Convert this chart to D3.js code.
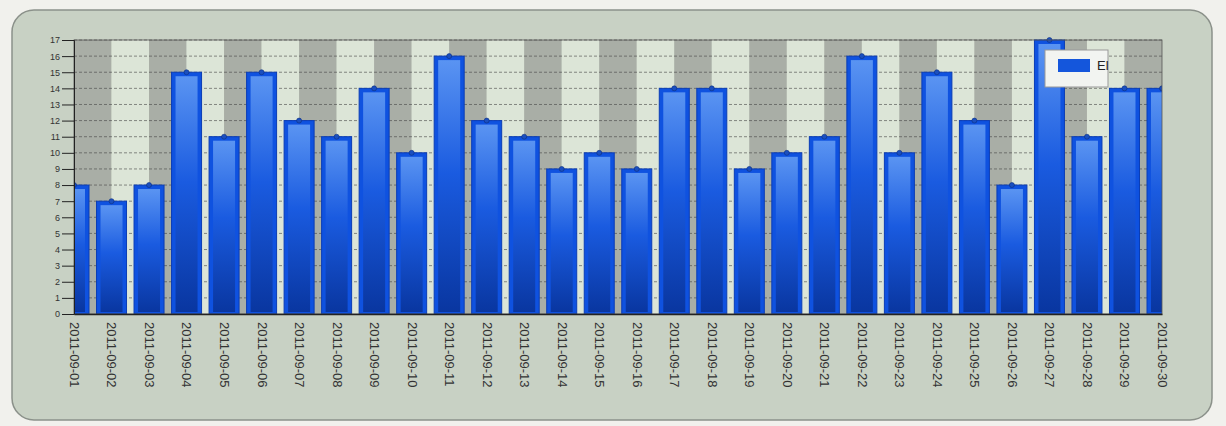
<!DOCTYPE html>
<html><head><meta charset="utf-8">
<script src="https://cdn.jsdelivr.net/npm/d3@7"></script>
<style>body{margin:0;background:#f1f1ed;font-family:"Liberation Sans",Arial,sans-serif}</style>
</head><body><svg id="chart" width="1226" height="426"></svg>
<script>
const dates = ["2011-09-01","2011-09-02","2011-09-03","2011-09-04","2011-09-05","2011-09-06","2011-09-07","2011-09-08","2011-09-09","2011-09-10","2011-09-11","2011-09-12","2011-09-13","2011-09-14","2011-09-15","2011-09-16","2011-09-17","2011-09-18","2011-09-19","2011-09-20","2011-09-21","2011-09-22","2011-09-23","2011-09-24","2011-09-25","2011-09-26","2011-09-27","2011-09-28","2011-09-29","2011-09-30"];
const values = [8,7,8,15,11,15,12,11,14,10,16,12,11,9,10,9,14,14,9,10,11,16,10,15,12,8,17,11,14,14];
const seriesName = "El";
const yTicks = d3.range(0, 18);

const svg = d3.select("#chart");
const pLeft = 74, pRight = 1162, pTop = 40, pBottom = 314;

// panel
svg.append("rect").attr("x", 12).attr("y", 10).attr("width", 1200).attr("height", 410)
   .attr("rx", 22).attr("fill", "#c8d1c4").attr("stroke", "#8b918a").attr("stroke-width", 1.5);

const x = d3.scalePoint().domain(dates).range([pLeft, pRight]);
const y = d3.scaleLinear().domain([0, 17]).range([pBottom, pTop]);
const step = x.step();
const bw = 30;

const defs = svg.append("defs");
defs.append("clipPath").attr("id", "plot").append("rect")
    .attr("x", pLeft).attr("y", pTop - 6).attr("width", pRight - pLeft).attr("height", pBottom - pTop + 6);
const g1 = defs.append("linearGradient").attr("id", "barv").attr("x1", 0).attr("y1", 0).attr("x2", 0).attr("y2", 1);
g1.append("stop").attr("offset", 0).attr("stop-color", "#5a94f2");
g1.append("stop").attr("offset", 0.45).attr("stop-color", "#1a5be0");
g1.append("stop").attr("offset", 1).attr("stop-color", "#0936a0");

const plot = svg.append("g").attr("clip-path", "url(#plot)");

// alternating stripes between category centres
plot.selectAll(".stripe").data(dates.slice(0, -1)).enter().append("rect")
    .attr("x", d => x(d)).attr("y", pTop).attr("width", step).attr("height", pBottom - pTop)
    .attr("fill", (d, i) => i % 2 ? "#dce5d7" : "#a9aea6");

// grid
plot.selectAll(".grid").data(yTicks.slice(1)).enter().append("line")
    .attr("x1", pLeft).attr("x2", pRight).attr("y1", d => y(d)).attr("y2", d => y(d))
    .attr("stroke", "#444").attr("stroke-width", 0.6).attr("stroke-dasharray", "3,2");

// bars
const bars = plot.selectAll(".bar").data(values).enter().append("g");
bars.append("rect")
    .attr("x", (d, i) => x(dates[i]) - bw / 2).attr("y", d => y(d))
    .attr("width", bw).attr("height", d => pBottom - y(d))
    .attr("fill", "#0f52e0").attr("stroke", "#0b3db5").attr("stroke-width", 1);
bars.append("rect")
    .attr("x", (d, i) => x(dates[i]) - bw / 2 + 4).attr("y", d => y(d) + 4)
    .attr("width", bw - 8).attr("height", d => pBottom - y(d) - 6)
    .attr("fill", "url(#barv)");
bars.append("circle")
    .attr("cx", (d, i) => x(dates[i])).attr("cy", d => y(d)).attr("r", 2.5)
    .attr("fill", "#1b4fbf").attr("stroke", "#0b2f80").attr("stroke-width", 0.6);

// frame
svg.append("rect").attr("x", pLeft).attr("y", pTop).attr("width", pRight - pLeft).attr("height", pBottom - pTop)
   .attr("fill", "none").attr("stroke", "#555").attr("stroke-width", 0.8);

// y axis
const ya = svg.append("g").attr("transform", `translate(${pLeft},0)`)
    .call(d3.axisLeft(y).tickValues(yTicks).tickSize(12).tickPadding(2));
ya.select(".domain").attr("stroke", "#222");
ya.selectAll("line").attr("stroke", "#222");
ya.selectAll("text").attr("font-size", 9).attr("fill", "#333");

// x axis labels
const xa = svg.append("g").attr("transform", `translate(0,${pBottom})`)
    .call(d3.axisBottom(x).tickSize(0));
xa.select(".domain").attr("stroke", "#222").attr("stroke-width", 1.5);
xa.selectAll("text").attr("font-size", 13).attr("fill", "#333")
   .attr("transform", "rotate(90)").attr("x", 8).attr("y", 0).attr("dy", "0.35em")
   .attr("text-anchor", "start");

// legend
const lg = svg.append("g");
lg.append("rect").attr("x", 1045).attr("y", 50).attr("width", 63).attr("height", 37)
  .attr("fill", "#f2f4f1").attr("stroke", "#999");
lg.append("rect").attr("x", 1058).attr("y", 59).attr("width", 32).attr("height", 13).attr("fill", "#1456dc");
lg.append("text").attr("x", 1097).attr("y", 70).attr("font-size", 13).attr("fill", "#222").text(seriesName);
</script></body></html>
